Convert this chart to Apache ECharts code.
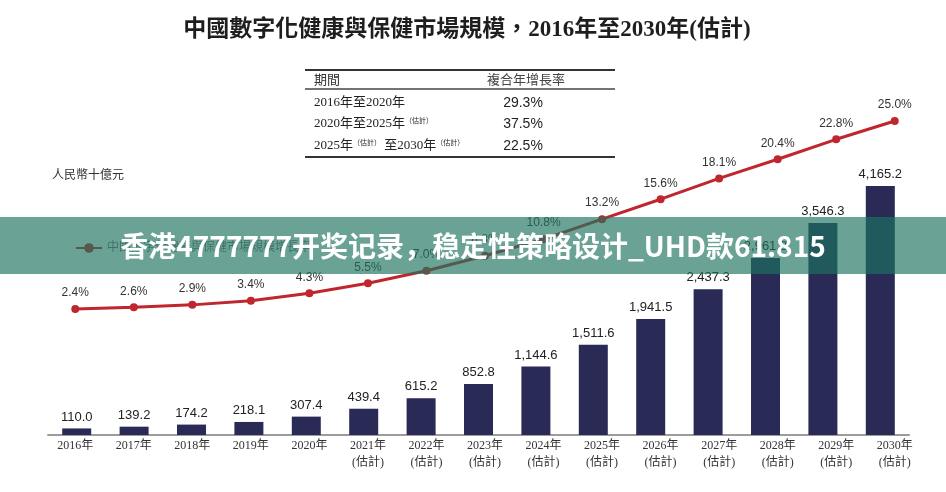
<!DOCTYPE html>
<html>
<head>
<meta charset="utf-8">
<script src="https://cdn.jsdelivr.net/npm/echarts@6/dist/echarts.min.js"></script>
<style>
html,body{margin:0;padding:0;background:#fff;}
#c{width:946px;height:492px;}
</style>
</head>
<body>
<div id="c"></div>
<script>
// ---- data ----
var years = ['2016','2017','2018','2019','2020','2021','2022','2023','2024','2025','2026','2027','2028','2029','2030'];
var estimated = [false,false,false,false,false,true,true,true,true,true,true,true,true,true,true];
var marketSize = [110.0,139.2,174.2,218.1,307.4,439.4,615.2,852.8,1144.6,1511.6,1941.5,2437.3,2961.8,3546.3,4165.2];
var growthRate = [2.4,2.6,2.9,3.4,4.3,5.5,7.0,8.8,10.8,13.2,15.6,18.1,20.4,22.8,25.0];
var cagrPeriods = ['{t|2016年至2020年}', '{t|2020年至2025年}{s|（估計）}', '{t|2025年}{s|（估計）}{t| 至2030年}{s|（估計）}'];
var cagrValues = ['29.3%','37.5%','22.5%'];
var titleText = '中國數字化健康與保健市場規模，2016年至2030年(估計)';
var unitText = '人民幣十億元';
var bannerText = '香港4777777开奖记录，稳定性策略设计_UHD款61.815';

var serif = "'Liberation Serif','Noto Sans CJK TC',serif";
var sans = "'Liberation Sans','Noto Sans CJK TC',sans-serif";

var axisLabels = years.map(function(y,i){ return estimated[i] ? y + '年\n(估計)' : y + '年'; });

var chart = echarts.init(document.getElementById('c'), null, {renderer:'canvas'});

var tableRowsY = [103,124,146];
var tableGraphics = [
  {type:'line', shape:{x1:305,y1:70,x2:615,y2:70}, style:{stroke:'#333',lineWidth:2}},
  {type:'line', shape:{x1:305,y1:89,x2:615,y2:89}, style:{stroke:'#444',lineWidth:1.5}},
  {type:'line', shape:{x1:305,y1:157,x2:615,y2:157}, style:{stroke:'#333',lineWidth:2}},
  {type:'text', x:314, y:81, style:{text:'期間', font:'13px '+serif, fill:'#333', textVerticalAlign:'middle'}},
  {type:'text', x:526, y:81, style:{text:'複合年增長率', font:'13px '+serif, fill:'#444', textAlign:'center', textVerticalAlign:'middle'}}
];
cagrPeriods.forEach(function(p,i){
  tableGraphics.push({type:'text', x:314, y:tableRowsY[i], style:{
    text:p, fill:'#222', verticalAlign:'middle',
    rich:{
      t:{fontSize:13, fontFamily:serif, color:'#222'},
      s:{fontSize:7, fontFamily:serif, color:'#333', verticalAlign:'top', padding:[0,0,6,0]}
    }
  }});
  tableGraphics.push({type:'text', x:523, y:tableRowsY[i], style:{text:cagrValues[i], font:'14px '+sans, fill:'#222', textAlign:'center', textVerticalAlign:'middle'}});
});

var option = {
  animation:false,
  backgroundColor:'#fff',
  legend:{
    data:['中國數字化健康與保健市場規模增長率'],
    left:70, top:237, itemWidth:26, itemHeight:12,
    textStyle:{color:'#777', fontSize:12, fontFamily:serif}
  },
  grid:[
    {left:48, right:37, top:166, bottom:57},
    {left:46, right:22, top:121, bottom:163}
  ],
  xAxis:[
    {type:'category', gridIndex:0, data:years, axisLine:{show:true, lineStyle:{color:'#9c9c9c', width:2}}, axisTick:{show:false}, axisLabel:{show:false}},
    {type:'category', gridIndex:1, data:axisLabels, axisLine:{show:false}, axisTick:{show:false},
     axisLabel:{show:true, interval:0, margin:108, color:'#333', fontSize:12, fontFamily:serif, lineHeight:17}}
  ],
  yAxis:[
    {type:'value', gridIndex:0, min:0, max:4500, show:false},
    {type:'value', gridIndex:1, min:0, max:25, show:false}
  ],
  series:[
    {name:'中國數字化健康與保健市場規模', type:'bar', xAxisIndex:0, yAxisIndex:0, data:marketSize, barWidth:29,
     itemStyle:{color:'#2a2a56'},
     label:{show:true, position:'top', distance:5, color:'#222', fontSize:13, fontFamily:sans,
       formatter:function(p){ return p.value.toLocaleString('en-US',{minimumFractionDigits:1, maximumFractionDigits:1}); }}},
    {name:'中國數字化健康與保健市場規模增長率', type:'line', xAxisIndex:1, yAxisIndex:1, data:growthRate,
     symbol:'circle', symbolSize:8, lineStyle:{color:'#c0262d', width:3}, itemStyle:{color:'#c0262d'},
     label:{show:true, position:'top', distance:6, color:'#333', fontSize:12, fontFamily:sans,
       formatter:function(p){ return p.value.toFixed(1) + '%'; }}}
  ],
  graphic:[
    {type:'text', x:467, y:30, style:{text:titleText, font:'bold 23px '+serif, fill:'#1e1e1e', textAlign:'center', textVerticalAlign:'middle'}},
    {type:'text', x:52, y:176, style:{text:unitText, font:'12px '+serif, fill:'#333', textVerticalAlign:'middle'}},
    {type:'group', children:tableGraphics},
    {type:'group', z:100, children:[
      {type:'rect', z:100, shape:{x:0,y:217,width:946,height:57}, style:{fill:'rgba(29,116,96,0.66)'}},
      {type:'text', z:101, x:473, y:246, style:{text:bannerText, font:"bold 28px 'Noto Sans CJK SC',sans-serif", fill:'#fff', textAlign:'center', textVerticalAlign:'middle'}}
    ]}
  ]
};
chart.setOption(option);
</script>
</body>
</html>
